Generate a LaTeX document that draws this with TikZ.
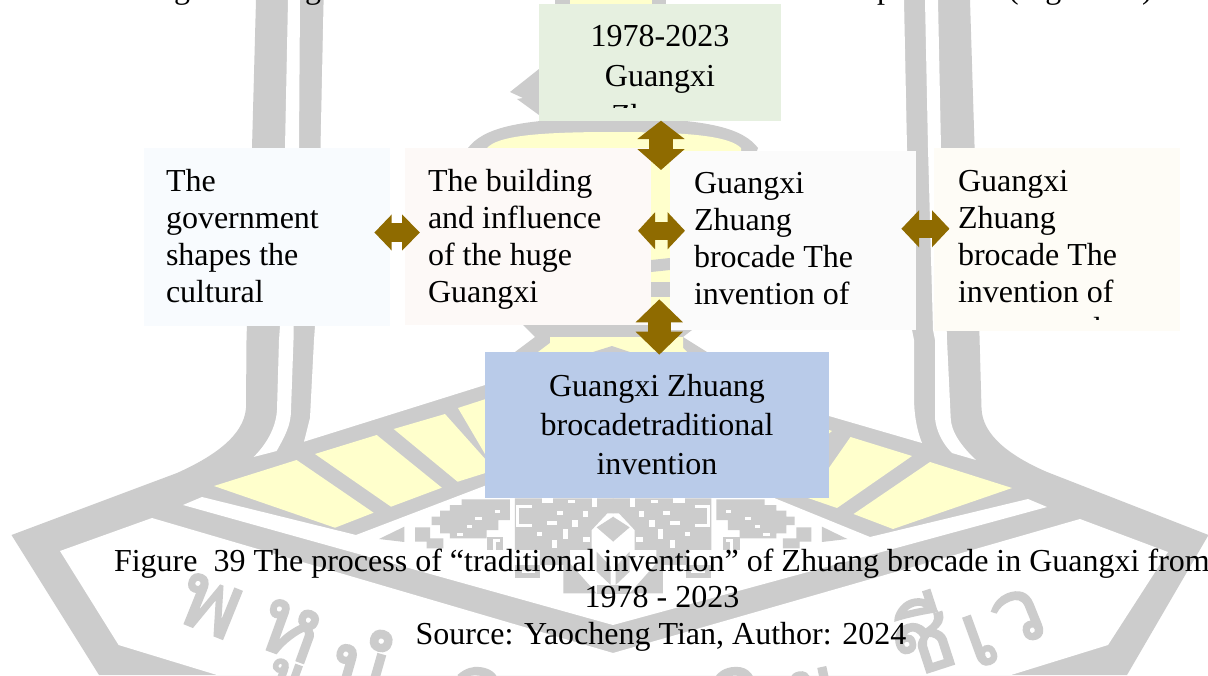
\documentclass[tikz,border=0pt]{standalone}
\usepackage{fontspec}
\setmainfont{Liberation Serif}
\newfontfamily\thaifont[Script=Thai,FakeBold=2.2]{Loma}
\usetikzlibrary{arrows.meta}
\definecolor{wmgrey}{HTML}{CCCCCC}
\definecolor{wmyellow}{HTML}{FFFFCC}
\definecolor{brown}{HTML}{8F6B00}
\definecolor{cTop}{HTML}{E6F0E0}
\definecolor{cA}{HTML}{F8FBFE}
\definecolor{cB}{HTML}{FDF9F7}
\definecolor{cC}{HTML}{FBFBFB}
\definecolor{cD}{HTML}{FEFCF6}
\definecolor{cBlue}{HTML}{B9CBE9}
\newcommand{\fs}{\rule{0pt}{26pt}}
\newcommand{\patternhalf}{%
  \fill[wmgrey] (95,140)--(120,140)--(120,122)--(150,122)--(150,105)--(185,105)--(185,88)--(330,88)--(330,150)--(295,150)--(295,180)--(260,180)--(260,205)--(150,205)--(150,190)--(120,190)--(120,165)--(95,165)--cycle;
  \fill[wmgrey] (45,172)--(90,172)--(90,205)--(130,205)--(130,235)--(80,235)--(80,215)--(45,215)--cycle;
  \fill[wmgrey] (-63,207)--(13,170)--(13,216)--cycle;
  \fill[wmgrey] (345,85)--(640,85)--(640,130)--(622,130)--(575,180)--(575,240)--(510,240)--(510,285)--(420,285)--(420,240)--(345,240)--cycle;
  \fill[wmgrey] (260,200)--(310,200)--(310,240)--(260,240)--cycle;
  \fill[wmgrey] (345,285)--(420,285)--(420,325)--(345,325)--cycle;
  \fill[wmgrey] (640,140)--(640,215)--(590,172)--cycle;
  \fill[wmgrey] (590,245)--(632,290)--(632,345)--(590,305)--cycle;
  \fill[wmgrey] (490,280)--(510,280)--(590,370)--(490,370)--cycle;
  \fill[wmgrey] (590,345)--(640,345)--(640,372)--(590,372)--cycle;
  \foreach \a/\b/\c/\d in {425/85/35/15,505/90/20/10,575/85/15/25,470/122/20/12,548/122/15/18,440/152/30/12,515/150/18/20,490/178/15/28,410/185/15/12,455/210/15/25,225/140/20/10,200/165/15/8,170/190/20/8,285/120/15/10,365/300/40/8,550/200/20/15}
    \fill[white] (\a,\b) rectangle ++(\c,\d);
  \draw[white,line width=3pt] (395,108)--(352,108)--(352,165)--(395,165);
  \draw[white,line width=3pt] (300,210)--(285,210)--(285,240);
}
\tikzset{
  box/.style={inner sep=0pt,outer sep=0pt,draw=none},
  body/.style={inner sep=0pt,outer sep=0pt,anchor=north west,align=left,font=\fontsize{32}{37}\selectfont},
  mid/.style={inner sep=0pt,outer sep=0pt,anchor=north,align=center},
  line/.style={inner sep=0pt,outer sep=0pt,anchor=base,font=\fontsize{32}{37}\selectfont},
  thai/.style={inner sep=0pt,text=wmgrey,font=\thaifont\fontsize{92}{92}\selectfont},
}
\begin{document}
\begin{tikzpicture}[x=1pt,y=-1pt]
\useasboundingbox (0,0) rectangle (1208,675);
\clip (0,0) rectangle (1208,675);
\fill[white] (0,0) rectangle (1208,675);

% watermark silhouette
\fill[wmgrey] (256,0)--(252,148)--(246.5,340)--(246,408) .. controls (244,435) and (215,456) .. (177,473)
  --(11.5,535)--(99,675)--(1127,675)--(1208.5,535)--(1047,472) .. controls (1010,456) and (982,435) .. (981.5,408)
  --(979.6,340)--(974.6,148)--(970,0)--cycle;
% white gaps
\fill[white] (288,0)--(285,148)--(280,326)--(279,340)--(277,410) .. controls (276,428) and (266,445) .. (253.5,457)
  --(276.6,451) .. controls (285,436) and (291,425) .. (291,410)--(293.5,340)--(293.5,326)--(299,148)--(300,0)--cycle;
\fill[white] (925,0)--(928,148)--(933,330)--(935,340)--(935,418) .. controls (936,430) and (942,443) .. (952,453)
  --(976,460) .. controls (962,447) and (951,432) .. (950.7,418)--(947,340)--(941,148)--(938,0)--cycle;
\fill[white] (323.6,0)--(320.5,148)--(315,326)--(314,340)--(310,418)--(304,441.7)--(485,385)--(613,344)--(829,416)--(922,443)
  .. controls (916,428) and (914,412) .. (914,397)--(914,340)--(912,330)--(907,148)--(904,0)--cycle;
% dome
\fill[wmgrey] (468,148) .. controls (482,130) and (512,118) .. (613,118) .. controls (714,118) and (744,130) .. (758,148)
  --(692,330)--(683,337)--(707,352)--(515,352)--(535,337)--(523,325)--cycle;
\fill[wmyellow] (487,148) .. controls (497,137) and (530,132) .. (613,132) .. controls (696,132) and (730,137) .. (741,148)
  --(741,320)--(487,320)--cycle;
\fill[wmyellow] (550,337)--(683,337)--(683,348)--(695,360)--(530,360)--(538,352)--(550,343)--cycle;
\fill[wmgrey] (593,352)--(612,346)--(630,352)--(630,360)--(593,360)--cycle;
\fill[wmgrey] (651,260)--(670,258)--(670,270)--(651,272)--cycle;
\fill[wmgrey] (651,282) rectangle (670,297);
\fill[wmgrey] (555,0) rectangle (666,6);
\fill[wmyellow] (570,0) rectangle (652,6);
\fill[wmgrey] (510,92)--(539,69)--(539,115)--(517,99)--(523,98)--cycle;
% yellow panels
\fill[wmyellow] (214,486)--(296.6,460)--(373.6,512.7)--(335,527.7)--cycle;
\fill[wmyellow] (315,454)--(376.7,435)--(441.8,487.7)--(391,506.7)--cycle;
\fill[wmyellow] (393.7,429)--(445,414)--(495,470)--(457.6,481.7)--cycle;
\fill[wmyellow] (458,408)--(495,396)--(495,471)--cycle;
\fill[wmyellow] (850.5,437)--(912,456)--(837,508)--(808,498)--cycle;
\fill[wmyellow] (930,462)--(1012,488)--(893,529)--(853.6,514)--cycle;
\fill[wmyellow] (815,425)--(832,431)--(815,445)--cycle;
% lower white areas
\fill[white] (183,505)--(202,497)--(356,535)--(500,480)--(730,480)--(870,537)--(1028,499)--(1047,507)--(613,625)--cycle;
\fill[white] (60,551)--(152,518)--(613,653)--(1080,519)--(1168,552)--(1108,645)--(1011,675)--(217,675)--(118.6,645)--cycle;
% central pattern
\begin{scope}[shift={(400,470)},x=.3333pt,y=-.3333pt] \patternhalf \end{scope}
\begin{scope}[shift={(826.3,470)},x=-.3333pt,y=-.3333pt] \patternhalf \end{scope}
% curved watermark letters
\node[thai,rotate=-22] (wa) at (210,606) {พ};
\node[thai,rotate=-20] (wb) at (286,642) {หู};
\node[thai,rotate=-16] (wc) at (362,664) {นํ};
\node[thai,rotate=-8] (wd) at (478,694) {ว};
\node[thai,rotate=8] (we) at (735,694) {ถ};
\node[thai,rotate=12] (wf) at (812,696) {ย};
\node[thai,rotate=18] (wg) at (920,634) {ชี};
\node[thai,rotate=20] (wh) at (980,640) {เ};
\node[thai,rotate=22] (wi) at (1018,618) {ว};

% line cut off at the top of the page
\node[line] (topa) at (182,-2) {g};
\node[line] (topb) at (313,-2) {g};
\node[line] (topc) at (885,-2) {p};
\node[line,anchor=base west] (topd) at (1008,-2) {(Figure 39)};

% boxes
\node[box,fill=cTop,minimum width=242pt,minimum height=117pt] (top) at (660,62.5) {};
\node[box,fill=cA,minimum width=246pt,minimum height=177.5pt] (la) at (267,236.75) {};
\node[box,fill=cB,minimum width=246pt,minimum height=177pt] (lb) at (528,236.5) {};
\node[box,fill=cC,minimum width=246pt,minimum height=179pt] (lc) at (793,240.5) {};
\node[box,fill=cD,minimum width=246pt,minimum height=183pt] (ld) at (1057,239.5) {};
\node[box,fill=cBlue,minimum width=344pt,minimum height=146pt] (bot) at (657,425) {};

% box texts
\begin{scope}
\clip (539,4) rectangle (781,107.5);
\node[mid,font=\fontsize{32}{40}\selectfont] (toptext) at (660,20) {\fs 1978-2023\\Guangxi\\Zhuang};
\end{scope}
\node[body] (latext) at (166,165) {\fs The\\government\\shapes the\\cultural};
\node[body] (lbtext) at (428,165) {\fs The building\\and influence\\of the huge\\Guangxi};
\node[body] (lctext) at (694,167) {\fs Guangxi\\Zhuang\\brocade The\\invention of};
\begin{scope}
\clip (934,148) rectangle (1180,319.5);
\node[body] (ldtext) at (958,165) {\fs Guangxi\\Zhuang\\brocade The\\invention of\\pattern and};
\end{scope}
\node[mid,font=\fontsize{32}{39}\selectfont] (bottext) at (657,370) {\fs Guangxi Zhuang\\brocadetraditional\\invention};

% connectors
\draw[draw=brown,line width=19pt,{Triangle[length=17.3pt,width=35pt]}-{Triangle[length=18pt,width=35pt]}]
  ([shift={(-15.6,-4.25)}]la.east) -- ([shift={(15,-4)}]lb.west);
\draw[draw=brown,line width=18.5pt,{Triangle[length=17pt,width=36pt]}-{Triangle[length=17.4pt,width=36pt]}]
  ([shift={(-13,-5.75)}]lb.east) -- ([shift={(15,-9.75)}]lc.west);
\draw[draw=brown,line width=18pt,{Triangle[length=17.6pt,width=36pt]}-{Triangle[length=17.5pt,width=36pt]}]
  ([shift={(-14.6,-11.75)}]lc.east) -- ([shift={(15.5,-10.75)}]ld.west);
\draw[draw=brown,line width=23.4pt,{Triangle[length=18.3pt,width=46.3pt]}-{Triangle[length=21pt,width=46.3pt]}]
  ([shift={(1,-0.3)}]top.south) -- ([shift={(1,49)}]top.south);
\draw[draw=brown,line width=23pt,{Triangle[length=23pt,width=46pt]}-{Triangle[length=23pt,width=46pt]}]
  ([shift={(2.3,-52.7)}]bot.north) -- ([shift={(2.3,2.7)}]bot.north);

% caption
\node[line,anchor=base west] (cap1) at (114,571) {Figure\ \ 39 The process of “traditional invention” of Zhuang brocade in Guangxi from};
\node[line] (cap2) at (662,607.5) {1978 - 2023};
\node[line] (cap3) at (661,644) {Source: Yaocheng Tian, Author: 2024};
\end{tikzpicture}
\end{document}
